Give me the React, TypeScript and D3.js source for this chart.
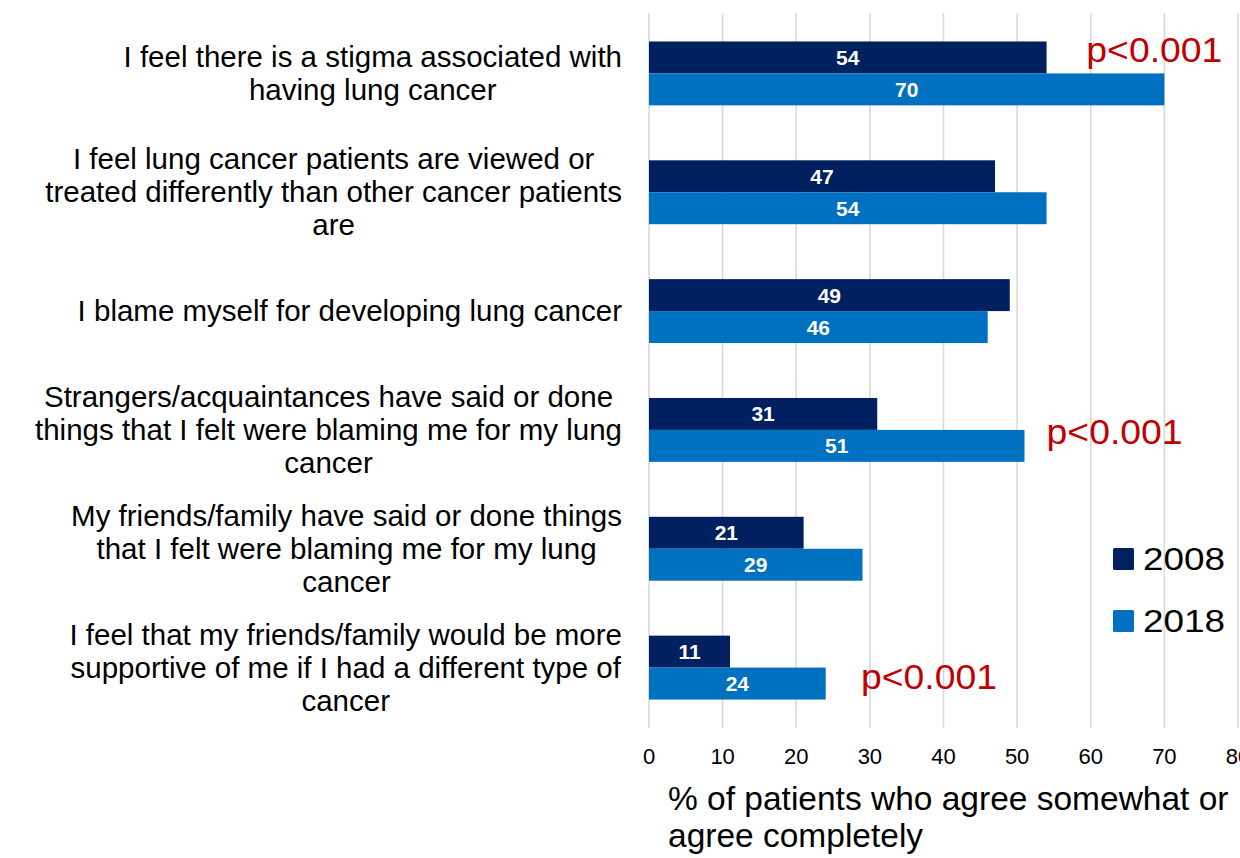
import { useEffect, useRef } from "react";
import * as d3 from "d3";

const categories: string[][] = [
  ["I feel there is a stigma associated with", "having lung cancer"],
  ["I feel lung cancer patients are viewed or", "treated differently than other cancer patients", "are"],
  ["I blame myself for developing lung cancer"],
  ["Strangers/acquaintances have said or done", "things that I felt were blaming me for my lung", "cancer"],
  ["My friends/family have said or done things", "that I felt were blaming me for my lung", "cancer"],
  ["I feel that my friends/family would be more", "supportive of me if I had a different type of", "cancer"],
];

const seriesNames = ["2008", "2018"];
const values2008 = [54, 47, 49, 31, 21, 11];
const values2018 = [70, 54, 46, 51, 29, 24];
const xTicks = [0, 10, 20, 30, 40, 50, 60, 70, 80];

// significance notes: category index, x anchor in % units, vertical place within the band (0..1)
const pNotes = [
  { cat: 0, at: 59.4, pos: 0.3 },
  { cat: 3, at: 54, pos: 0.52 },
  { cat: 5, at: 28.8, pos: 0.58 },
];

const colors = ["#002060", "#0070C0"];
const FONT = "'Liberation Sans', Arial, sans-serif";

export default function App() {
  const svgRef = useRef<SVGSVGElement>(null);

  useEffect(() => {
    if (!svgRef.current) return;
    const svg = d3.select(svgRef.current);
    svg.selectAll("*").remove();

    const x = d3.scaleLinear().domain([0, 80]).range([649, 1238]);
    const y = d3
      .scaleBand<number>()
      .domain(categories.map((_, i) => i))
      .range([14, 727]);
    const inner = d3
      .scaleBand<number>()
      .domain([0, 1])
      .range([0, y.bandwidth()])
      .paddingInner(0)
      .paddingOuter(0.86);

    // gridlines
    svg
      .append("g")
      .selectAll("line")
      .data(xTicks)
      .join("line")
      .attr("x1", (d) => x(d))
      .attr("x2", (d) => x(d))
      .attr("y1", 13)
      .attr("y2", 728)
      .attr("stroke", "#d9d9d9")
      .attr("stroke-width", 1.6);

    // tick labels
    svg
      .append("g")
      .selectAll("text")
      .data(xTicks)
      .join("text")
      .attr("x", (d) => x(d))
      .attr("y", 764)
      .attr("text-anchor", "middle")
      .attr("font-family", FONT)
      .attr("font-size", 22)
      .attr("fill", "#000")
      .text((d) => d);

    const series = [values2008, values2018];

    // bars + value labels
    series.forEach((vals, si) => {
      const g = svg.append("g");
      g.selectAll("rect")
        .data(vals)
        .join("rect")
        .attr("x", x(0))
        .attr("y", (_, i) => (y(i) ?? 0) + (inner(si) ?? 0))
        .attr("width", (d) => x(d) - x(0))
        .attr("height", inner.bandwidth())
        .attr("fill", colors[si]);
      g.selectAll("text")
        .data(vals)
        .join("text")
        .attr("x", (d) => x(d / 2))
        .attr("y", (_, i) => (y(i) ?? 0) + (inner(si) ?? 0) + inner.bandwidth() / 2 + 7.5)
        .attr("text-anchor", "middle")
        .attr("font-family", FONT)
        .attr("font-size", 21)
        .attr("font-weight", "bold")
        .attr("fill", "#fff")
        .text((d) => d);
    });

    // category labels: block centred, right edge at 622
    const lineH = 33;
    categories.forEach((lines, i) => {
      const cy = (y(i) ?? 0) + y.bandwidth() / 2;
      const g = svg.append("g");
      const texts = g
        .selectAll("text")
        .data(lines)
        .join("text")
        .attr("x", 0)
        .attr("y", (_, k) => cy + (k - (lines.length - 1) / 2) * lineH + 10)
        .attr("text-anchor", "middle")
        .attr("font-family", FONT)
        .attr("font-size", 29.5)
        .attr("fill", "#000")
        .text((d) => d);
      let maxW = 0;
      texts.each(function () {
        maxW = Math.max(maxW, (this as SVGTextElement).getComputedTextLength());
      });
      g.attr("transform", `translate(${622 - maxW / 2},0)`);
    });

    // p-value notes
    svg
      .append("g")
      .selectAll("text")
      .data(pNotes)
      .join("text")
      .attr("x", (d) => x(d.at))
      .attr("y", (d) => (y(d.cat) ?? 0) + y.bandwidth() * d.pos + 12)
      .attr("font-family", FONT)
      .attr("font-size", 35)
      .attr("fill", "#C00000")
      .attr("textLength", 136)
      .attr("lengthAdjust", "spacingAndGlyphs")
      .text("p<0.001");

    // legend
    const legend = svg
      .append("g")
      .selectAll("g")
      .data(seriesNames)
      .join("g")
      .attr("transform", (_, i) => `translate(1113,${548 + i * 62})`);
    legend
      .append("rect")
      .attr("width", 21)
      .attr("height", 22)
      .attr("rx", 1.5)
      .attr("fill", (_, i) => colors[i]);
    legend
      .append("text")
      .attr("x", 30)
      .attr("y", 22)
      .attr("font-family", FONT)
      .attr("font-size", 32)
      .attr("fill", "#000")
      .attr("textLength", 82)
      .attr("lengthAdjust", "spacingAndGlyphs")
      .text((d) => d);

    // axis title
    svg
      .append("g")
      .selectAll("text")
      .data(["% of patients who agree somewhat or", "agree completely"])
      .join("text")
      .attr("x", 668)
      .attr("y", (_, k) => 810 + k * 37)
      .attr("font-family", FONT)
      .attr("font-size", 33.5)
      .attr("fill", "#000")
      .text((d) => d);
  }, []);

  return (
    <svg
      ref={svgRef}
      width={1240}
      height={858}
      style={{ position: "absolute", left: 0, top: 0, background: "#fff" }}
    />
  );
}
